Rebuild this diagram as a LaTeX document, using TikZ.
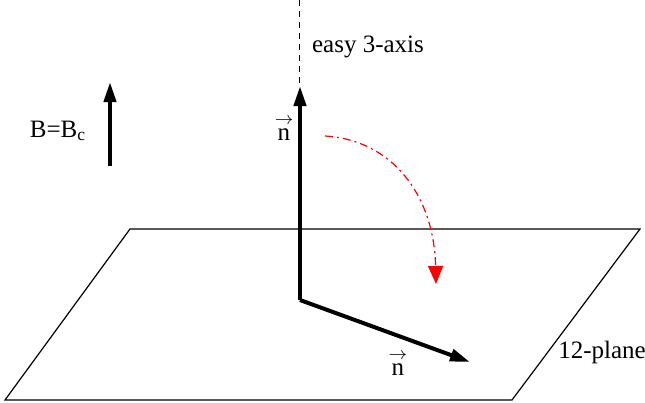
\documentclass[tikz,border=0pt]{standalone}
\usepackage{fontspec}
\setmainfont{Liberation Serif}
\usetikzlibrary{arrows.meta}
\begin{document}
\begin{tikzpicture}[x=0.5pt, y=-0.5pt, font=\fontsize{12.5}{15}\selectfont]
\useasboundingbox (0,0) rectangle (645,403);
% plane
\draw[line width=0.6pt] (130,229) -- (640,229) -- (512,400) -- (5,400) -- cycle;

\coordinate (origin) at (300,300);
\coordinate (axtop) at (300,0);
\coordinate (ntop) at (300,86);
\coordinate (nplane) at (470,362);
\coordinate (bstart) at (110,166);
\coordinate (bend) at (110,82);
\coordinate (rstart) at (325,136);
\coordinate (rend) at (436,284);

\node (easy) at (368,47) {easy 3-axis};
\node (nup) at (284,128) {$\stackrel{\rightarrow}{\mbox{n}}$};
\node (ndown) at (398,363) {$\stackrel{\rightarrow}{\mbox{n}}$};
\node (field) at (58,131) {B=B\textsubscript{c}};
\node (plane) at (602,352) {12-plane};

\draw[dash pattern=on 3pt off 2.5pt, line width=0.5pt] (axtop) -- (ntop);
\draw[-{Triangle[length=10pt,width=6pt]}, line width=2pt] (origin) -- (ntop);
\draw[-{Triangle[length=10pt,width=6pt]}, line width=2pt, line join=miter] (ntop|-origin) -- (nplane);
\draw[-{Triangle[length=10pt,width=6pt]}, line width=2pt] (bstart) -- (bend);
\draw[red, line width=0.6pt, dash pattern=on 4pt off 2pt on 1pt off 2pt,
      -{Triangle[length=9pt,width=7.5pt]}]
  (rstart) .. controls (392,140) and (434,195) .. (rend);
\end{tikzpicture}
\end{document}
